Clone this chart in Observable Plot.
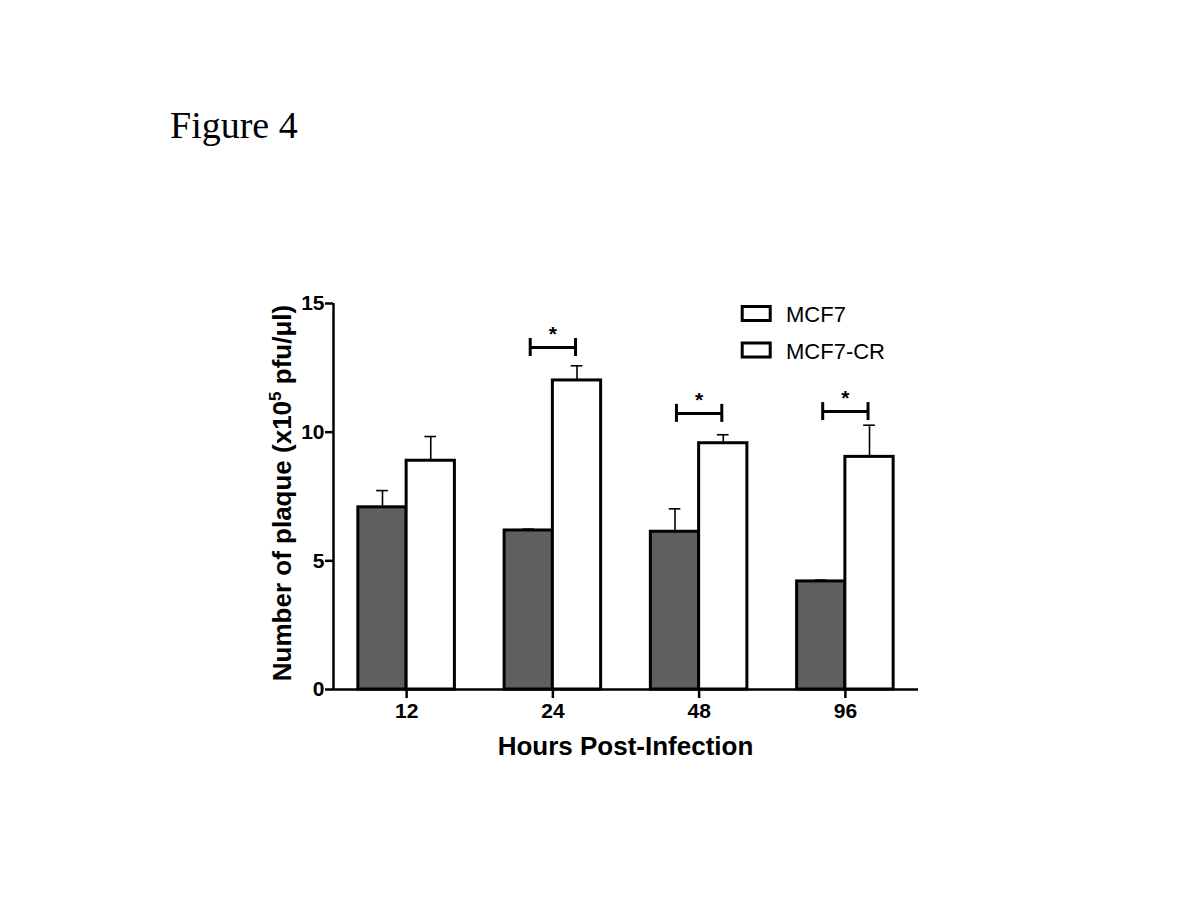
<!DOCTYPE html>
<html><head><meta charset="utf-8">
<script src="https://cdn.jsdelivr.net/npm/d3@7"></script>
<script src="https://cdn.jsdelivr.net/npm/@observablehq/plot@0.6"></script>
<style>
body{margin:0;background:#fff;}
#wrap{position:relative;width:1200px;height:920px;background:#fff;}
#wrap svg{position:absolute;left:0;top:0;}
#fig{position:absolute;left:170px;top:106px;font-family:"Liberation Serif","Times New Roman",serif;font-size:38px;line-height:38px;color:#000;z-index:2;white-space:nowrap;}
</style></head><body>
<div id="wrap"><div id="fig">Figure 4</div></div>
<script>
// ---- data ----
const hours = ["12", "24", "48", "96"];
const seriesNames = ["MCF7", "MCF7-CR"];
const mcf7Mean = [7.08, 6.18, 6.13, 4.20];
const mcf7Err  = [0.65, 0.05, 0.89, 0.05];
const crMean   = [8.89, 12.01, 9.57, 9.04];
const crErr    = [0.94, 0.57, 0.33, 1.23];
const sigHours = ["24", "48", "96"];
const sigLevel = [13.29, 10.73, 10.80];
const yTicks = [0, 5, 10, 15];

// ---- layout helpers ----
const bw = 0.33;          // bar width in group units
const capHalf = 0.04;     // error cap half width
const brHalf = 0.155;     // bracket half width
const brTick = 0.35;      // bracket end tick half height (y units)
const FONT = "'Liberation Sans', Arial, Helvetica, sans-serif";

const rows = [];
hours.forEach((h, i) => {
  rows.push({hour: h, series: seriesNames[0], mean: mcf7Mean[i], err: mcf7Err[i], x1: i + 0.5 - bw, x2: i + 0.5});
  rows.push({hour: h, series: seriesNames[1], mean: crMean[i], err: crErr[i], x1: i + 0.5, x2: i + 0.5 + bw});
});
rows.forEach(d => { d.xc = (d.x1 + d.x2) / 2; d.top = d.mean + d.err; });
const sig = sigHours.map((h, k) => {
  const i = hours.indexOf(h);
  return {i, xm: i + 0.5, y: sigLevel[k], xa: i + 0.5 - brHalf, xb: i + 0.5 + brHalf};
});

const chart = Plot.plot({
  width: 1200,
  height: 920,
  marginLeft: 333,
  marginRight: 282,
  marginTop: 303,
  marginBottom: 231,
  style: {fontFamily: FONT, background: "#fff", color: "#000", overflow: "visible"},
  x: {domain: [0, 4]},
  y: {domain: [0, 15]},
  marks: [
    Plot.rectY(rows.filter(d => d.series === seriesNames[0]), {x1: "x1", x2: "x2", y1: 0, y2: "mean", fill: "#5f5f5f", stroke: "#000", strokeWidth: 3}),
    Plot.rectY(rows.filter(d => d.series === seriesNames[1]), {x1: "x1", x2: "x2", y1: 0, y2: "mean", fill: "#fff", stroke: "#000", strokeWidth: 3}),
    Plot.ruleX(rows, {x: "xc", y1: "mean", y2: "top", stroke: "#000", strokeWidth: 1.6}),
    Plot.ruleY(rows, {y: "top", x1: d => d.xc - capHalf, x2: d => d.xc + capHalf, stroke: "#000", strokeWidth: 1.6}),
    Plot.ruleY(sig, {y: "y", x1: "xa", x2: "xb", stroke: "#000", strokeWidth: 3}),
    Plot.ruleX(sig, {x: "xa", y1: d => d.y - brTick, y2: d => d.y + brTick, stroke: "#000", strokeWidth: 3}),
    Plot.ruleX(sig, {x: "xb", y1: d => d.y - brTick, y2: d => d.y + brTick, stroke: "#000", strokeWidth: 3}),
    Plot.text(sig, {x: "xm", y: "y", text: () => "*", dy: -13, fontSize: 21, fontWeight: "bold", fill: "#000"}),
    Plot.ruleX([0], {y1: 0, y2: 15, stroke: "#000", strokeWidth: 2.5}),
    Plot.ruleY([0], {x1: 0, x2: 4, stroke: "#000", strokeWidth: 2.5}),
    Plot.axisY({ticks: yTicks, tickSize: 8, tickPadding: 1, fontSize: 21, fontWeight: "bold", stroke: "#000", strokeWidth: 2.5, fill: "#000", label: null}),
    Plot.axisX({ticks: hours.map((h, i) => i + 0.5), tickFormat: v => hours[Math.floor(v)], tickSize: 9, tickPadding: 5, fontSize: 21, fontWeight: "bold", stroke: "#000", strokeWidth: 2.5, fill: "#000", label: null})
  ]
});
document.getElementById("wrap").appendChild(chart);

const svg = d3.select(chart);
// y-axis title with superscript
const yt = svg.append("text")
  .attr("transform", "translate(291,493) rotate(-90)")
  .attr("text-anchor", "middle")
  .attr("fill", "#000")
  .style("font-family", FONT).style("font-weight", "bold").style("font-size", "26px");
yt.append("tspan").text("Number of plaque (x10");
yt.append("tspan").attr("dy", -10).style("font-size", "17px").text("5");
yt.append("tspan").attr("dy", 10).text(" pfu/\u03BCl)");

// x-axis title
svg.append("text")
  .attr("x", 625.5).attr("y", 755)
  .attr("text-anchor", "middle").attr("fill", "#000")
  .style("font-family", FONT).style("font-weight", "bold").style("font-size", "26px")
  .text("Hours Post-Infection");

// legend
const lg = svg.append("g");
seriesNames.forEach((name, k) => {
  const y0 = 306.5 + k * 36.5;
  lg.append("rect").attr("x", 742.2).attr("y", y0).attr("width", 28).attr("height", 14)
    .attr("fill", "#fff").attr("stroke", "#000").attr("stroke-width", 3);
  lg.append("text").attr("x", 786).attr("y", y0 + 15.5).attr("fill", "#000")
    .attr("text-anchor", "start")
    .style("font-family", FONT).style("font-size", "22px").text(name);
});
</script>
</body></html>
